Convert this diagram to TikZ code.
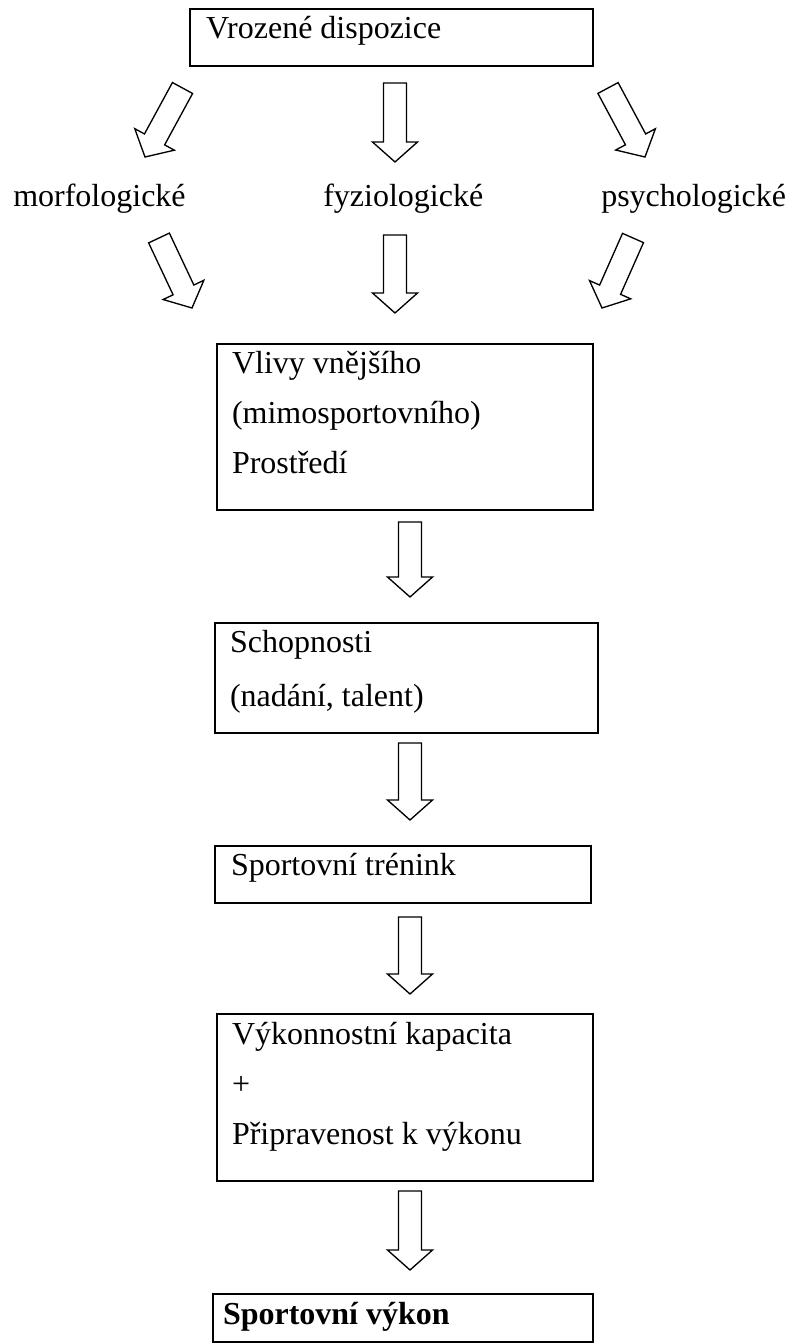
\documentclass[tikz,border=0pt]{standalone}
\usepackage{fontspec}
\setmainfont{Liberation Serif}
\usepackage{xcolor}
\usepackage{tikz}
\usetikzlibrary{calc}
\definecolor{inkBlack}{HTML}{000000}
\newcommand{\padlines}[3]{\rule{0pt}{#1}#3\rule[-#2]{0pt}{#2}}

\begin{document}
\begin{tikzpicture}[
        x=0.75pt, y=-0.75pt,
        stageBox/.style={draw=inkBlack, line width=1.4pt, anchor=north west, align=flush left, inner ysep=0pt, inner xsep=11.25pt, outer sep=0pt, font=\fontsize{24}{37.5}\selectfont},
        levelLabel/.style={anchor=base west, inner sep=0pt, font=\fontsize{24}{28}\selectfont},
        hollowArrow/.style={draw=inkBlack, line width=1pt, line join=miter, to path={
            ($(\tikztostart)!8.6pt!90:(\tikztotarget)$)
            -- ($($(\tikztotarget)!15pt!(\tikztostart)$)!8.6pt!-90:(\tikztostart)$)
            -- ($($(\tikztotarget)!15pt!(\tikztostart)$)!16.9pt!-90:(\tikztostart)$)
            -- (\tikztotarget)
            -- ($($(\tikztotarget)!15pt!(\tikztostart)$)!16.9pt!90:(\tikztostart)$)
            -- ($($(\tikztotarget)!15pt!(\tikztostart)$)!8.6pt!90:(\tikztostart)$)
            -- ($(\tikztostart)!8.6pt!-90:(\tikztotarget)$)
            -- cycle}}
    ]
        \useasboundingbox (0,0) rectangle (790,1344);

        % Top box
        \node[stageBox, text width=278.25pt, inner xsep=12pt, at={(190,9)}] (vrozene) {\padlines{22.5pt}{20.25pt}{Vrozené dispozice}};

        % Three kinds of dispositions
        \node[levelLabel, at={(13,207)}] (morf) {morfologické};
        \node[levelLabel, at={(323,207)}] (fyz) {fyziologické};
        \node[levelLabel, at={(601,207)}] (psych) {psychologické};

        % Chain of boxes
        \node[stageBox, text width=259.5pt, at={(217,344)}] (vlivy) {\padlines{21.75pt}{27.75pt}{Vlivy vnějšího\\(mimosportovního)\\Prostředí}};

        \node[stageBox, text width=264.75pt, font=\fontsize{24}{40.5}\selectfont, at={(215,623)}] (schop) {\padlines{21.75pt}{20.25pt}{Schopnosti\\(nadání, talent)}};

        \node[stageBox, text width=258pt, inner xsep=12pt, at={(215,846)}] (trenink) {\padlines{21.75pt}{21pt}{Sportovní trénink}};

        \node[stageBox, text width=259.5pt, at={(217,1014)}] (kapacita) {\padlines{22.5pt}{27.75pt}{Výkonnostní kapacita\\+\\Připravenost k výkonu}};

        \node[stageBox, text width=270pt, inner xsep=7.5pt, at={(213,1294)}] (vykon) {\padlines{22.5pt}{13.5pt}{\textbf{Sportovní výkon}}};

        % Arrows out of the top box
        \draw[hollowArrow] ([shift={(-7.5,22)}]vrozene.south west) to ([shift={(132,-50)}]morf.base west);
        \draw[hollowArrow] ([shift={(3.5,17)}]vrozene.south) to ([shift={(72,-45)}]fyz.base west);
        \draw[hollowArrow] ([shift={(15,22)}]vrozene.south east) to ([shift={(44,-50)}]psych.base west);

        % Arrows into the environment box
        \draw[hollowArrow] ([shift={(146,31)}]morf.base west) to ([shift={(-25,-36)}]vlivy.north west);
        \draw[hollowArrow] ([shift={(72,28)}]fyz.base west) to ([shift={(-10,-31)}]vlivy.north);
        \draw[hollowArrow] ([shift={(32,31)}]psych.base west) to ([shift={(9,-36)}]vlivy.north east);

        % Arrows down the chain
        \draw[hollowArrow] ([shift={(5,12)}]vlivy.south) to ([shift={(3.5,-26)}]schop.north);
        \draw[hollowArrow] ([shift={(3.5,10)}]schop.south) to ([shift={(7,-26)}]trenink.north);
        \draw[hollowArrow] ([shift={(7,14)}]trenink.south) to ([shift={(5,-20)}]kapacita.north);
        \draw[hollowArrow] ([shift={(5,10)}]kapacita.south) to ([shift={(7,-24)}]vykon.north);
    \end{tikzpicture}
\end{document}
